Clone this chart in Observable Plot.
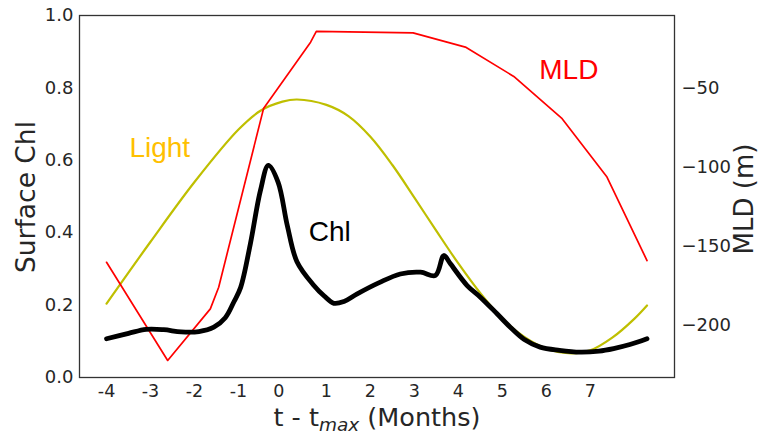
<!DOCTYPE html>
<html><head><meta charset="utf-8">
<script src="https://cdn.jsdelivr.net/npm/d3@7"></script>
<script src="https://cdn.jsdelivr.net/npm/@observablehq/plot@0.6"></script>
<style>body{margin:0;background:#fff;}#chart{width:758px;height:434px;}</style>
</head><body><div id="chart"></div>
<script>
// Chl (surface chlorophyll), left axis
const chlT = [-4, -3.5, -3.1, -2.7, -2.3, -1.9, -1.56, -1.3, -1.1, -0.95, -0.73, -0.5, -0.32, -0.1, 0.11, 0.33, 0.71, 0.95, 1.17, 1.4, 1.7, 2.2, 2.68, 3.14, 3.48, 3.67, 3.82, 4.2, 4.5, 4.88, 5.18, 5.5, 5.86, 6.3, 6.77, 7.2, 7.53, 7.9, 8.29];
const chlV = [0.107, 0.122, 0.133, 0.132, 0.126, 0.127, 0.139, 0.165, 0.21, 0.249, 0.369, 0.517, 0.586, 0.54, 0.42, 0.32, 0.255, 0.225, 0.205, 0.21, 0.231, 0.262, 0.286, 0.291, 0.282, 0.337, 0.314, 0.254, 0.222, 0.176, 0.139, 0.105, 0.084, 0.075, 0.070, 0.073, 0.080, 0.091, 0.107];
// Light, left axis
const lightT = [-4, -3, -2, -1, -0.5, 0, 0.33, 1, 1.5, 2, 2.5, 3, 3.5, 4, 4.5, 5, 5.5, 6, 6.5, 7, 7.5, 8, 8.29];
const lightV = [0.204, 0.375, 0.54, 0.685, 0.737, 0.762, 0.768, 0.753, 0.722, 0.665, 0.587, 0.497, 0.405, 0.315, 0.233, 0.163, 0.112, 0.08, 0.067, 0.075, 0.11, 0.162, 0.199];
// MLD (m), right axis
const mldT = [-4, -2.61, -1.64, -1.45, -0.43, 0.64, 0.77, 2.97, 4.16, 5.26, 6.36, 7.38, 8.29];
const mldV = [-160.4, -222.6, -189.9, -176.2, -63, -20.9, -14.1, -15, -24, -42.6, -69.4, -106.4, -159.3];

const xTickPos = [-4, -3, -2, -1, -0.08, 1, 2, 3, 4, 5, 6, 7];
const xTickLabels = ["-4", "-3", "-2", "-1", "0", "1", "2", "3", "4", "5", "6", "7"];
const chlTicks = [0, 0.2, 0.4, 0.6, 0.8, 1.0];
const mldTicks = [-50, -100, -150, -200];
const xDomain = [-4.615, 8.915];
const chlDomain = [0, 1];
const mldDomain = [-233.4, -4];

const seriesNames = ["Light", "MLD", "Chl"];
const seriesColors = ["#FFC000", "#FF0000", "#000000"];
const labelAt = [[-3.48, 0.610], [5.84, 0.825], [0.598, 0.3765]]; // data-space anchors

const toLeft = m => (m - mldDomain[0]) / (mldDomain[1] - mldDomain[0]);
const fromLeft = v => mldDomain[0] + v * (mldDomain[1] - mldDomain[0]);

const chl = chlT.map((t, i) => ({t, v: chlV[i]}));
const light = lightT.map((t, i) => ({t, v: lightV[i]}));
const mld = mldT.map((t, i) => ({t, v: toLeft(mldV[i])}));
const labels = seriesNames.map((s, i) => ({s, t: labelAt[i][0], v: labelAt[i][1], c: seriesColors[i]}));

const fmtMld = d3.format("d");

const plot = Plot.plot({
  width: 758, height: 434,
  marginLeft: 79, marginRight: 84, marginTop: 15, marginBottom: 57,
  style: {fontFamily: "DejaVu Sans", color: "#262626", background: "#fff"},
  x: {domain: xDomain},
  y: {domain: chlDomain},
  marks: [
    Plot.line(light, {x: "t", y: "v", stroke: "#bfbf00", strokeWidth: 2.2, curve: "catmull-rom"}),
    Plot.line(mld, {x: "t", y: "v", stroke: "#ff0000", strokeWidth: 1.7, curve: "linear"}),
    Plot.line(chl, {x: "t", y: "v", stroke: "#000", strokeWidth: 4.8, curve: "catmull-rom", strokeLinecap: "round"}),
    Plot.text(labels, {x: "t", y: "v", text: "s", fill: "c", textAnchor: "start", lineAnchor: "bottom", fontSize: 28, fontFamily: "Liberation Sans"}),
    Plot.axisY(chlTicks, {anchor: "left", tickSize: 0, tickPadding: 6, fontSize: 18, tickFormat: d3.format(".1f"), label: null}),
    Plot.axisY(mldTicks.map(toLeft), {anchor: "right", tickSize: 0, tickPadding: 7, fontSize: 18, tickFormat: d => fmtMld(Math.round(fromLeft(d))), label: null}),
    Plot.axisX(xTickPos, {tickSize: 0, tickPadding: 7, fontSize: 17.5, tickFormat: d => xTickLabels[xTickPos.indexOf(d)], label: null}),
    Plot.frame({stroke: "#333", strokeWidth: 1.3})
  ]
});

const svg = d3.select(plot);
// y label (left)
svg.append("text")
  .attr("transform", "translate(35,197) rotate(-90)")
  .attr("text-anchor", "middle")
  .attr("font-size", 26.5).attr("fill", "#262626")
  .text("Surface Chl");
// y label (right)
svg.append("text")
  .attr("transform", "translate(753,199) rotate(-90)")
  .attr("text-anchor", "middle")
  .attr("font-size", 26).attr("fill", "#262626")
  .text("MLD (m)");
// x label with subscript
const xl = svg.append("text")
  .attr("x", 377).attr("y", 426)
  .attr("text-anchor", "middle")
  .attr("font-size", 25.5).attr("fill", "#262626");
xl.append("tspan").text("t - t");
xl.append("tspan").attr("font-size", 18.5).attr("font-style", "italic").attr("dy", 5).text("max");
xl.append("tspan").attr("dy", -5).text(" (Months)");

document.getElementById("chart").appendChild(plot);
</script>
</body></html>
